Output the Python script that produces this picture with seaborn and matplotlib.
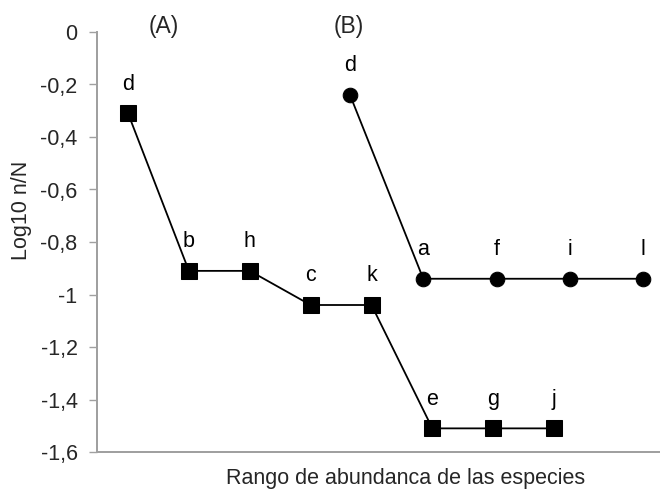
import matplotlib
matplotlib.use("Agg")
import matplotlib.pyplot as plt
import seaborn as sns
import pandas as pd

# Series A (squares)
rank_A = [1, 2, 3, 4, 5, 6, 7, 8]
species_A = ["d", "b", "h", "c", "k", "e", "g", "j"]
log_A = [-0.31, -0.91, -0.91, -1.04, -1.04, -1.51, -1.51, -1.51]

# Series B (circles)
rank_B = [1, 2, 3, 4, 5]
species_B = ["d", "a", "f", "i", "l"]
log_B = [-0.24, -0.94, -0.94, -0.94, -0.94]

yticks = [0, -0.2, -0.4, -0.6, -0.8, -1.0, -1.2, -1.4, -1.6]
ytick_labels = ["0", "-0,2", "-0,4", "-0,6", "-0,8", "-1", "-1,2", "-1,4", "-1,6"]

sns.set_theme(style="white")
plt.rcParams["font.family"] = ["Liberation Sans", "DejaVu Sans"]

FS = 15.5

fig = plt.figure(figsize=(6.6, 4.9), dpi=100)
ax = fig.add_axes([97/660, 1-452/490, 1-97/660, 420/490])
ax2 = ax.twiny()

dfA = pd.DataFrame({"rank": rank_A, "log": log_A})
dfB = pd.DataFrame({"rank": rank_B, "log": log_B})

sns.lineplot(data=dfA, x="rank", y="log", ax=ax, color="black", marker="s",
             markersize=11, markeredgecolor="black", linewidth=1.3)
sns.lineplot(data=dfB, x="rank", y="log", ax=ax2, color="black", marker="o",
             markersize=10.5, markeredgecolor="black", linewidth=1.3)

ax.set_xlim(0.49, 9.74)
ax2.set_xlim(-2.454, 5.232)
for a in (ax, ax2):
    a.set_ylim(-1.6, 0)

for x, y, s in zip(rank_A, log_A, species_A):
    ax.annotate(s, (x, y), xytext=(0, 21), textcoords="offset points",
                ha="center", va="center", fontsize=FS, color="black")
for x, y, s in zip(rank_B, log_B, species_B):
    ax2.annotate(s, (x, y), xytext=(0, 21), textcoords="offset points",
                 ha="center", va="center", fontsize=FS, color="black")

ax.set_yticks(yticks)
ax.set_yticklabels(ytick_labels, fontsize=FS)
ax.set_xticks([])
ax2.set_xticks([])
ax.set_xlabel("")
ax.set_ylabel("")
ax2.set_xlabel("")
ax2.set_ylabel("")

ax.tick_params(axis="y", direction="out", length=6, width=1, color="#a0a0a0",
               pad=8, left=True)
for a in (ax, ax2):
    for sp in ("top", "right"):
        a.spines[sp].set_visible(False)
    for sp in ("left", "bottom"):
        a.spines[sp].set_color("#a0a0a0")
        a.spines[sp].set_linewidth(1.3)

fig.text(22/660, 1-210/490, "Log10 n/N", rotation=90, ha="center", va="center",
         fontsize=FS)
fig.text(164/660, 1-26/490, "(A)", ha="center", va="center", fontsize=16.5)
fig.text(349/660, 1-26/490, "(B)", ha="center", va="center", fontsize=16.5)
fig.text(406/660, 1-478/490, "Rango de abundanca de las especies",
         ha="center", va="center", fontsize=FS)

fig.savefig("out.png", dpi=100)
